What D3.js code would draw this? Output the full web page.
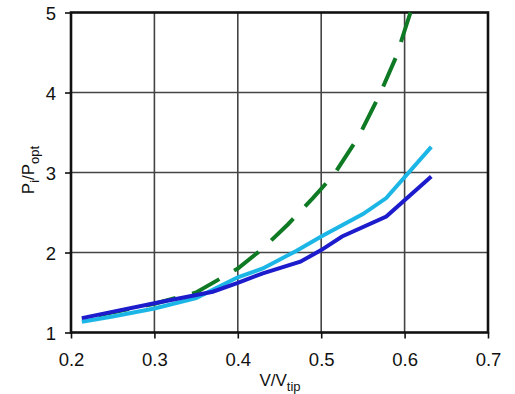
<!DOCTYPE html>
<html>
<head>
<meta charset="utf-8">
<script src="https://cdn.jsdelivr.net/npm/d3@7"></script>
<style>
  body { margin: 0; background: #fff; }
  text { font-family: "Liberation Sans", Arial, sans-serif; fill: #111; }
</style>
</head>
<body>
<div id="container"></div>
<script>
let w = 515;
let h = 394;

// values
let xTicks = [0.2, 0.3, 0.4, 0.5, 0.6, 0.7];
let yTicks = [1, 2, 3, 4, 5];

let greenX = [0.213, 0.3, 0.35, 0.4, 0.43, 0.46, 0.49, 0.515, 0.545, 0.57, 0.59, 0.607];
let greenY = [1.17, 1.36, 1.5, 1.8, 2.05, 2.35, 2.68, 2.97, 3.45, 3.97, 4.45, 5.0];

let cyanX = [0.213, 0.25, 0.3, 0.35, 0.4, 0.43, 0.47, 0.5, 0.55, 0.578, 0.632];
let cyanY = [1.135, 1.2, 1.3, 1.43, 1.69, 1.8, 2.02, 2.2, 2.48, 2.68, 3.32];

let blueX = [0.213, 0.3, 0.37, 0.4, 0.43, 0.475, 0.5, 0.525, 0.578, 0.632];
let blueY = [1.18, 1.365, 1.51, 1.62, 1.74, 1.885, 2.03, 2.2, 2.45, 2.95];

let padL = 71, padR = 488, padT = 12.5, padB = 332.5;

let x = d3.scaleLinear().domain([0.2, 0.7]).range([padL, padR]);
let y = d3.scaleLinear().domain([1, 5]).range([padB, padT]);

let viz = d3.select('#container')
  .append('svg')
    .attr('width', w)
    .attr('height', h)
    .style('background-color', 'white');

// grid
viz.append('g').selectAll('line').data(xTicks.slice(1, -1)).enter().append('line')
  .attr('x1', d => x(d)).attr('x2', d => x(d))
  .attr('y1', padT).attr('y2', padB)
  .attr('stroke', '#444').attr('stroke-width', 1.6);
viz.append('g').selectAll('line').data(yTicks.slice(1, -1)).enter().append('line')
  .attr('x1', padL).attr('x2', padR)
  .attr('y1', d => y(d)).attr('y2', d => y(d))
  .attr('stroke', '#444').attr('stroke-width', 1.6);

// axes
let xAxis = d3.axisBottom(x).tickValues(xTicks).tickSize(6).tickFormat(d3.format('.1f'));
let yAxis = d3.axisLeft(y).tickValues(yTicks).tickSize(6).tickFormat(d3.format('d'));

let gx = viz.append('g').attr('transform', 'translate(0,' + padB + ')').call(xAxis);
let gy = viz.append('g').attr('transform', 'translate(' + padL + ',0)').call(yAxis);

[gx, gy].forEach(g => {
  g.select('.domain').remove();
  g.selectAll('.tick line').attr('stroke', '#111').attr('stroke-width', 1.6);
  g.selectAll('.tick text')
    .style('font-family', '"Liberation Sans", Arial, sans-serif')
    .style('font-size', '18.5px')
    .attr('fill', '#111');
});
gx.selectAll('.tick text').attr('dy', null).attr('y', 33);
gy.selectAll('.tick text').attr('x', -15).attr('dy', '0.36em');

// frame
viz.append('rect')
  .attr('x', padL).attr('y', padT)
  .attr('width', padR - padL).attr('height', padB - padT)
  .attr('fill', 'none').attr('stroke', '#111').attr('stroke-width', 2.6);

// series
let line = d3.line().x(d => x(d[0])).y(d => y(d[1]));

function pairs(xs, ys) {
  return xs.map((v, i) => [v, ys[i]]);
}

let green = viz.append('path')
  .datum(pairs(greenX, greenY))
  .attr('d', line)
  .attr('fill', 'none')
  .attr('stroke', '#0e7a24')
  .attr('stroke-width', 4)
  .attr('stroke-dasharray', '31,17');

// line the dashes up so that one runs into the top of the plot
let len = green.node().getTotalLength();
green.attr('stroke-dashoffset', 31 - (len % 48));

viz.append('path')
  .datum(pairs(cyanX, cyanY))
  .attr('d', line)
  .attr('fill', 'none')
  .attr('stroke', '#1cb6e6')
  .attr('stroke-width', 4);

viz.append('path')
  .datum(pairs(blueX, blueY))
  .attr('d', line)
  .attr('fill', 'none')
  .attr('stroke', '#1c1ccc')
  .attr('stroke-width', 4);

// axis titles
let xt = viz.append('text')
  .attr('x', 280).attr('y', 386)
  .attr('text-anchor', 'middle')
  .style('font-size', '17px');
xt.append('tspan').text('V/V');
xt.append('tspan').attr('dy', 5).style('font-size', '13px').text('tip');

let yt = viz.append('text')
  .attr('transform', 'translate(34,170) rotate(-90)')
  .attr('text-anchor', 'middle')
  .style('font-size', '17px');
yt.append('tspan').text('P');
yt.append('tspan').attr('dy', 5).style('font-size', '13px').text('i');
yt.append('tspan').attr('dy', -5).text('/P');
yt.append('tspan').attr('dy', 5).style('font-size', '13px').text('opt');
</script>
</body>
</html>
